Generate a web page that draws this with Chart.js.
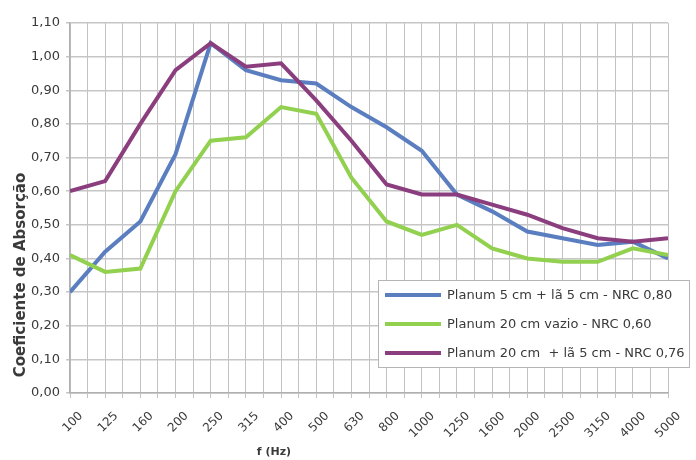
<!DOCTYPE html>
<html>
<head>
<meta charset="utf-8">
<script src="https://cdn.jsdelivr.net/npm/chart.js"></script>
<style>
  html, body { margin: 0; padding: 0; background: #fff; }
</style>
</head>
<body>
<canvas id="absorcao" width="696" height="460"></canvas>
<script>
// frequencias (Hz) e coeficientes
const freqs = ["100", "125", "160", "200", "250", "315", "400", "500", "630", "800",
               "1000", "1250", "1600", "2000", "2500", "3150", "4000", "5000"];

const plenum5La = [0.30, 0.42, 0.51, 0.71, 1.04, 0.96, 0.93, 0.92, 0.85, 0.79,
                   0.72, 0.59, 0.54, 0.48, 0.46, 0.44, 0.45, 0.40];
const plenum20Vazio = [0.41, 0.36, 0.37, 0.60, 0.75, 0.76, 0.85, 0.83, 0.64, 0.51,
                       0.47, 0.50, 0.43, 0.40, 0.39, 0.39, 0.43, 0.41];
const plenum20La = [0.60, 0.63, 0.80, 0.96, 1.04, 0.97, 0.98, 0.87, 0.75, 0.62,
                    0.59, 0.59, 0.56, 0.53, 0.49, 0.46, 0.45, 0.46];

const seriesNames = ["Planum 5 cm + lã 5 cm - NRC 0,80",
                     "Planum 20 cm vazio - NRC 0,60",
                     "Planum 20 cm  + lã 5 cm - NRC 0,76"];

const FONT = '"DejaVu Sans", sans-serif';
Chart.defaults.font.family = FONT;

// x is an index scale so the half-step grid lines can be drawn
const toPoints = arr => arr.map((v, i) => ({ x: i, y: v }));

// titles + legend box drawn on top (legend sits inside the plot like Excel)
const extras = {
  id: "extras",
  afterDraw(chart) {
    const ctx = chart.ctx;
    ctx.save();
    ctx.fillStyle = "#3a3a3a";
    ctx.textAlign = "center";
    ctx.textBaseline = "middle";

    ctx.save();
    ctx.translate(21, 275);
    ctx.rotate(-Math.PI / 2);
    ctx.font = "bold 15px " + FONT;
    ctx.fillText("Coeficiente de Absorção", 0, 0);
    ctx.restore();

    ctx.font = "bold 11px " + FONT;
    ctx.fillText("f (Hz)", 274, 452);

    // legend
    ctx.fillStyle = "#fff";
    ctx.fillRect(378, 280, 311, 87);
    ctx.strokeStyle = "#b5b5b5";
    ctx.lineWidth = 1;
    ctx.strokeRect(378.5, 280.5, 311, 87);

    const rows = [295, 324, 353];
    const sets = chart.data.datasets;
    ctx.textAlign = "left";
    ctx.font = "13px " + FONT;
    sets.forEach((ds, i) => {
      ctx.strokeStyle = ds.borderColor;
      ctx.lineWidth = 4;
      ctx.beginPath();
      ctx.moveTo(385, rows[i]);
      ctx.lineTo(441, rows[i]);
      ctx.stroke();
      ctx.fillStyle = "#3a3a3a";
      ctx.fillText(ds.label, 447, rows[i] + 1);
    });
    ctx.restore();
  }
};

new Chart(document.getElementById("absorcao"), {
  type: "line",
  data: {
    datasets: [
      { label: seriesNames[0], data: toPoints(plenum5La), borderColor: "#5a7ebf", order: 2 },
      { label: seriesNames[1], data: toPoints(plenum20Vazio), borderColor: "#92d050", order: 1 },
      { label: seriesNames[2], data: toPoints(plenum20La), borderColor: "#8b3e7e", order: 0 }
    ]
  },
  options: {
    responsive: false,
    animation: false,
    layout: { padding: { top: 23, right: 28, left: 0, bottom: 0 } },
    elements: {
      line: { borderWidth: 4, tension: 0, fill: false },
      point: { radius: 0 }
    },
    plugins: {
      legend: { display: false },
      tooltip: { enabled: false }
    },
    scales: {
      x: {
        type: "linear",
        min: 0,
        max: 17,
        afterFit: s => { s.height = 67; },
        grid: { display: true, drawOnChartArea: true, color: "#c2c2c2", lineWidth: 1, tickLength: 5 },
        border: { color: "#b0b0b0", width: 1.5 },
        ticks: {
          stepSize: 0.5,
          autoSkip: false,
          minRotation: 45,
          maxRotation: 45,
          labelOffset: 11,
          padding: 11,
          color: "#3a3a3a",
          font: { size: 12 },
          callback: v => Number.isInteger(v) ? freqs[v] : ""
        }
      },
      y: {
        min: 0,
        max: 1.1,
        afterFit: s => { s.width = 70; },
        grid: { color: "#c6c6c6", lineWidth: 1.5, tickLength: 4 },
        border: { color: "#b0b0b0", width: 1.5 },
        ticks: {
          stepSize: 0.1,
          padding: 6,
          color: "#3a3a3a",
          font: { size: 13 },
          callback: v => v.toFixed(2).replace(".", ",")
        }
      }
    }
  },
  plugins: [extras]
});
</script>
</body>
</html>
